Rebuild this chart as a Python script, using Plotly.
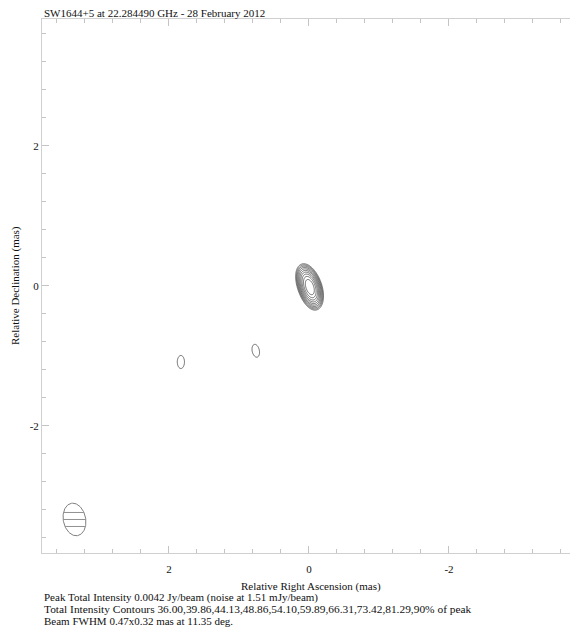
import numpy as np
import plotly.graph_objects as go

# ---------------- text ----------------
title_text = "SW1644+5 at 22.284490 GHz - 28 February 2012"
x_label = "Relative Right Ascension (mas)"
y_label = "Relative Declination (mas)"
info_lines = [
    "Peak Total Intensity 0.0042 Jy/beam (noise at 1.51 mJy/beam)",
    "Total Intensity Contours 36.00,39.86,44.13,48.86,54.10,59.89,66.31,73.42,81.29,90% of peak",
    "Beam FWHM 0.47x0.32 mas at 11.35 deg.",
]
info_sizes = [11, 11.4, 11]

# ---------------- ticks ----------------
x_tick_vals = [2, 0, -2]
x_tick_text = ["2", "0", "-2"]
y_tick_vals = [2, 0, -2]
y_tick_text = ["2", "0", "-2"]
minor_step = 0.4

# ---------------- contour levels (% of peak) ----------------
contour_levels = [36.00, 39.86, 44.13, 48.86, 54.10, 59.89, 66.31, 73.42, 81.29, 90.0]

# ---------------- core components ----------------
core_ra = [-0.04, 0.07]       # mas
core_dec = [-0.08, 0.14]      # mas
core_amp = [1.0, 0.45]
core_major = [0.50, 0.45]     # FWHM mas
core_minor = [0.28, 0.28]
core_pa = [15.0, 15.0]        # deg

# ---------------- faint knots (fraction of peak) ----------------
knot_ra = [1.83, 0.76]
knot_dec = [-1.09, -0.93]
knot_frac = [0.385, 0.385]
knot_major = [0.60, 0.60]
knot_minor = [0.33, 0.33]
knot_pa = [0.0, 12.0]

# ---------------- beam ----------------
beam_major = 0.47
beam_minor = 0.32
beam_pa = 11.35
beam_ra = 3.35
beam_dec = -3.34
hatch_offsets = [-0.1, 0.0, 0.1]

# ---------------- build map ----------------
gx = np.round(np.arange(-0.5, 2.2001, 0.01), 3)
gy = np.round(np.arange(-1.4, 0.6001, 0.01), 3)
X, Y = np.meshgrid(gx, gy)


def gauss(ra, dec, amp, mj, mn, pa):
    th = np.deg2rad(pa)
    dx, dy = X - ra, Y - dec
    a = dx * np.sin(th) + dy * np.cos(th)
    b = dx * np.cos(th) - dy * np.sin(th)
    return amp * np.exp(-4 * np.log(2) * ((a / mj) ** 2 + (b / mn) ** 2))


core = np.zeros_like(X)
for p in zip(core_ra, core_dec, core_amp, core_major, core_minor, core_pa):
    core += gauss(*p)
frac = core / core.max()
for p in zip(knot_ra, knot_dec, knot_frac, knot_major, knot_minor, knot_pa):
    frac += gauss(*p)
zpct = 100.0 * frac
zlog = np.round(np.log(np.clip(zpct, 1e-3, None)), 4)

lv_log = np.log(contour_levels)
lv_step = (lv_log[-1] - lv_log[0]) / (len(contour_levels) - 1)

fig = go.Figure()
fig.add_trace(go.Contour(
    x=gx, y=gy, z=zlog,
    autocontour=False,
    contours=dict(start=lv_log[0], end=lv_log[-1] + lv_step * 0.01, size=lv_step, coloring="lines"),
    colorscale=[[0, "#4a4a4a"], [1, "#4a4a4a"]],
    line=dict(width=0.8),
    showscale=False, hoverinfo="skip",
))

# beam ellipse
t = np.linspace(0, 2 * np.pi, 121)
th = np.deg2rad(beam_pa)
A, B = beam_major / 2, beam_minor / 2
ea, eb = A * np.cos(t), B * np.sin(t)
ex = beam_ra + ea * np.sin(th) + eb * np.cos(th)
ey = beam_dec + ea * np.cos(th) - eb * np.sin(th)
fig.add_trace(go.Scatter(x=ex, y=ey, mode="lines", line=dict(color="#808080", width=1),
                         hoverinfo="skip", showlegend=False))

# hatch lines
s, c = np.sin(th), np.cos(th)
hx, hy = [], []
for off in hatch_offsets:
    dy = off
    qa = s**2 / A**2 + c**2 / B**2
    qb = 2 * dy * (s * c / A**2 - c * s / B**2)
    qc = dy**2 * (c**2 / A**2 + s**2 / B**2) - 1
    disc = qb**2 - 4 * qa * qc
    if disc <= 0:
        continue
    r1 = (-qb - np.sqrt(disc)) / (2 * qa)
    r2 = (-qb + np.sqrt(disc)) / (2 * qa)
    hx += [beam_ra + r1, beam_ra + r2, None]
    hy += [beam_dec + dy, beam_dec + dy, None]
fig.add_trace(go.Scatter(x=hx, y=hy, mode="lines", line=dict(color="#909090", width=1),
                         hoverinfo="skip", showlegend=False))

font_family = "Liberation Serif"
txt_color = "#111111"
axis_col = "#d0d0d0"
tick_col = "#c4c4c4"

common_axis = dict(
    tickmode="array", ticks="inside", ticklen=7, tickwidth=1, tickcolor=tick_col,
    showline=True, linecolor=axis_col, linewidth=1,
    showgrid=False, zeroline=False,
    tickfont=dict(family=font_family, size=11, color=txt_color),
    minor=dict(tickmode="linear", tick0=0, dtick=minor_step, ticks="inside", ticklen=4,
               tickcolor=tick_col, showgrid=False),
)

fig.update_layout(
    width=570, height=630,
    margin=dict(l=42, r=0, t=19, b=77),
    paper_bgcolor="white", plot_bgcolor="white",
    showlegend=False,
    xaxis=dict(range=[3.814, -3.729], tickvals=x_tick_vals, ticktext=x_tick_text,
               mirror="ticks", ticklabelstandoff=6, **common_axis),
    yaxis=dict(range=[-3.819, 3.810], tickvals=y_tick_vals, ticktext=y_tick_text,
               mirror=False, **common_axis),
)

ann = []
ann.append(dict(text=title_text, x=0, y=(553 - 12.5) / 534, xref="paper", yref="paper",
                xanchor="left", yanchor="middle", showarrow=False,
                font=dict(family=font_family, size=11, color=txt_color)))
ann.append(dict(text=x_label, x=(311 - 42) / 528, y=(553 - 586.5) / 534, xref="paper", yref="paper",
                xanchor="center", yanchor="middle", showarrow=False,
                font=dict(family=font_family, size=11, color=txt_color)))
ann.append(dict(text=y_label, x=(15 - 42) / 528, y=0.5, xref="paper", yref="paper",
                xanchor="center", yanchor="middle", textangle=-90, showarrow=False,
                font=dict(family=font_family, size=11, color=txt_color)))
for i, (line, fs) in enumerate(zip(info_lines, info_sizes)):
    ann.append(dict(text=line, x=0, y=(553 - (597.5 + 11.8 * i)) / 534, xref="paper", yref="paper",
                    xanchor="left", yanchor="middle", showarrow=False,
                    font=dict(family=font_family, size=fs, color=txt_color)))
fig.update_layout(annotations=ann)

fig.write_html("out.html", config={"displayModeBar": False},
               post_script="document.body.style.margin='0px';document.body.style.overflow='hidden';")
